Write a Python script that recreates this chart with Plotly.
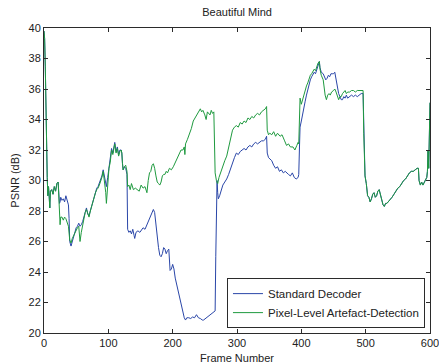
import plotly.graph_objects as go

# Pixel-Level Artefact-Detection (green)
green_frames = [0, 1, 2, 3, 4, 5, 6, 7, 8, 9, 10, 12, 14, 16, 18, 20, 22, 23, 24, 25, 26, 28, 30, 32, 34, 36, 38,
                40, 42, 44, 46, 48, 50, 52, 54, 56, 58, 60, 62, 64, 66, 68, 70, 72, 74, 76, 78, 80, 82, 84, 86, 88,
                90, 92, 94, 96, 97, 99, 101, 103, 105, 107, 109, 110, 112, 114, 116, 118, 120, 121, 122, 123, 125,
                127, 129, 130, 132, 134, 136, 139, 142, 145, 148, 151, 154, 157, 160, 162, 164, 166, 168, 170, 172,
                174, 176, 178, 180, 182, 184, 186, 188, 190, 192, 195, 198, 201, 204, 207, 210, 213, 216, 218, 219,
                220, 223, 226, 229, 232, 235, 238, 241, 243, 245, 247, 250, 252, 254, 256, 258, 260, 262, 264, 265,
                266, 268, 270, 272, 275, 278, 281, 284, 287, 290, 293, 296, 299, 302, 305, 308, 311, 314, 317, 320,
                323, 326, 329, 332, 335, 338, 341, 344, 346, 347, 349, 351, 354, 357, 360, 363, 367, 370, 374, 377,
                380, 383, 387, 390, 393, 395, 396, 397, 398, 400, 402, 404, 406, 408, 410, 412, 414, 416, 418, 420,
                422, 424, 426, 428, 429, 431, 434, 437, 439, 441, 443, 445, 447, 450, 452, 454, 456, 458, 460, 462,
                464, 466, 468, 470, 472, 475, 478, 481, 484, 487, 490, 493, 496, 497, 498, 499, 501, 503, 505, 507,
                509, 511, 513, 515, 517, 519, 521, 523, 525, 527, 529, 531, 533, 535, 538, 541, 544, 547, 550, 553,
                556, 559, 562, 565, 568, 571, 574, 577, 580, 582, 583, 585, 587, 589, 591, 593, 595, 596, 597, 598,
                599, 600]
green_psnr = [39.8, 39.3, 37.5, 34.5, 32.6, 30.2, 29.0, 29.6, 29.0, 28.2, 29.3, 29.4, 29.1, 29.6, 29.3, 29.8, 29.9,
              29.2, 28.5, 27.1, 27.6, 27.6, 27.4, 27.6, 27.5, 27.3, 27.0,
              26.1, 25.9, 26.2, 26.4, 26.6, 26.8, 26.9, 27.0, 26.0, 26.6, 27.0, 27.6, 27.9, 28.1, 27.8, 27.6, 28.0,
              28.3, 28.6, 29.0, 29.2, 29.4, 29.5, 29.7, 29.9,
              30.2, 30.6, 30.0, 29.2, 28.5, 29.8, 30.8, 31.2, 32.0, 31.7, 32.3, 32.4, 31.8, 32.1, 31.6, 31.9, 32.0,
              31.8, 31.1, 30.7, 30.9,
              31.0, 30.6, 29.6, 29.7, 29.4, 29.8, 29.4, 29.5, 29.4, 29.3, 29.7, 29.5, 29.6, 29.2, 30.0, 30.5, 30.6,
              31.0, 31.1, 30.8,
              30.3, 29.9, 29.8, 29.7, 29.9, 30.3, 30.4, 30.4, 30.6, 30.5, 30.8, 30.7, 30.9, 31.2, 31.5, 31.7, 32.0,
              32.0, 32.2, 31.7,
              32.4, 32.7, 33.0, 33.4, 33.9, 34.1, 34.3, 34.5, 34.7, 34.5, 34.6, 34.3, 34.0, 34.5, 34.4, 34.3, 34.6,
              34.4, 34.5, 32.0,
              30.5, 30.0, 29.8, 30.2, 30.6, 31.0, 31.3, 31.6, 32.2, 32.7, 33.3, 33.5, 33.6, 33.5, 33.8, 33.7, 33.9,
              33.8, 34.1, 34.0,
              34.2, 34.1, 34.3, 34.4, 34.3, 34.5, 34.6, 34.7, 34.85, 33.3, 33.0, 33.1, 33.0, 33.2, 32.9, 33.1, 32.9,
              33.0, 32.6, 32.3,
              32.4, 32.2, 32.2, 32.0, 32.3, 32.5, 32.4, 35.2, 35.4, 35.0, 35.3, 35.6, 36.0, 36.2, 36.4, 36.7, 36.9,
              37.0, 37.2, 37.3,
              37.2, 37.5, 37.7, 37.8, 37.3, 36.9, 36.6, 35.6, 35.3, 35.6, 35.7, 35.6, 35.8, 35.9, 36.0, 35.8, 35.5,
              35.3, 35.5, 35.5,
              35.7, 35.8, 35.9, 35.7, 35.8, 35.8, 35.9, 35.9, 35.8, 35.9, 35.9, 35.9, 35.9, 33.1, 31.5, 30.3, 29.8,
              29.0, 28.9, 28.6,
              28.8, 29.1, 29.2, 28.9, 29.0, 29.3, 29.4, 29.0, 28.7, 28.4, 28.3, 28.5, 28.5, 28.6, 28.7, 28.9, 29.1,
              29.3, 29.5, 29.6,
              29.8, 30.0, 30.1, 30.3, 30.5, 30.6, 30.6, 30.7, 30.8, 30.8, 30.0, 29.7, 29.9, 29.7, 29.9, 30.0, 30.2,
              30.6, 32.0, 30.8,
              33.0, 35.1]

# Standard Decoder (blue)
blue_frames = [0, 1, 2, 3, 4, 5, 6, 7, 8, 9, 10, 12, 14, 16, 18, 20, 22, 23, 24, 25, 26, 28, 30, 32, 34, 36, 38, 39,
               40, 42, 44, 46, 48, 50, 52, 54, 56, 58, 60, 62, 64, 66, 68, 70, 72, 74, 76, 78, 80, 82, 84, 86, 88,
               90, 92, 94, 96, 97, 99, 101, 103, 105, 107, 109, 110, 112, 114, 116, 118, 120, 121, 122, 123, 125,
               127, 129, 130, 132, 134, 136, 138, 140, 141, 143, 146, 149, 152, 154, 157, 160, 163, 166, 168, 170,
               172, 174, 176, 178, 180, 182, 184, 186, 188, 190, 192, 194, 196, 198, 200, 202, 204, 206, 208, 210,
               212, 214, 216, 218, 220, 222, 225, 228, 231, 234, 237, 240, 243, 246, 248, 251, 254, 257, 260, 263,
               266, 267, 268, 269, 270, 271, 273, 275, 278, 281, 284, 287, 290, 293, 296, 299, 302, 305, 308, 311,
               314, 317, 320, 323, 326, 329, 332, 335, 338, 341, 344, 346, 347, 349, 351, 354, 357, 360, 363, 366,
               369, 372, 375, 377, 380, 383, 386, 389, 392, 395, 396, 397, 398, 400, 402, 404, 406, 408, 410, 412,
               414, 416, 418, 420, 422, 424, 426, 428, 429, 431, 434, 436, 438, 440, 442, 444, 446, 448, 450, 452,
               454, 456, 458, 460, 462, 464, 466, 468, 470, 472, 475, 478, 481, 484, 487, 490, 493, 496, 497, 498,
               499, 501, 503, 505, 507, 509, 511, 513, 515, 517, 519, 521, 523, 525, 527, 529, 531, 533, 535, 538,
               541, 544, 547, 550, 553, 556, 559, 562, 565, 568, 571, 574, 577, 580, 582, 583, 585, 587, 589, 591,
               593, 595, 596, 597, 598, 599, 600]
blue_psnr = [39.8, 39.3, 37.5, 34.5, 32.6, 30.2, 29.0, 29.6, 29.0, 28.2, 29.3, 29.4, 29.1, 29.6, 29.3, 29.8, 29.9,
             29.2, 28.5, 28.6, 28.9, 28.7, 28.8, 28.6, 29.0, 28.7, 28.4, 27.5,
             26.0, 25.7, 26.0, 26.3, 26.6, 26.9, 27.0, 27.2, 27.0, 27.1, 27.3, 27.7, 27.9, 28.2, 27.8, 27.7, 28.0,
             28.4, 28.6, 29.0, 29.3, 29.5, 29.6, 29.8, 30.0,
             30.3, 30.7, 30.2, 29.9, 29.6, 30.2, 30.9, 31.4, 32.1, 31.8, 32.4, 32.5, 31.9, 32.2, 31.7, 32.0, 32.0,
             31.8, 31.1, 30.7, 30.9,
             30.8, 30.4, 26.8, 26.6, 26.7, 26.5, 26.8, 26.4, 26.2, 26.6, 26.7, 26.6, 26.8, 26.9, 26.8, 27.1, 27.3,
             27.6, 27.8, 28.1,
             27.9, 27.0, 26.1, 25.6, 25.1, 25.0, 25.2, 25.6, 25.5, 25.2, 25.4, 25.5, 24.1, 24.2, 24.5, 24.2, 23.6,
             23.2, 22.8, 22.5,
             22.0, 21.6, 21.2, 21.0, 20.85, 21.0, 21.0, 20.95, 21.05, 21.0, 21.2, 21.0, 20.95, 20.85, 20.85, 20.95,
             21.05, 21.15, 21.25, 21.35,
             21.45, 25.0, 29.6, 30.0, 29.2, 28.8, 29.0, 29.3, 29.7, 29.9, 30.1, 30.4, 30.8, 31.2, 31.5, 31.8, 31.7,
             31.9, 32.0, 32.1,
             32.0, 32.2, 32.3, 32.2, 32.4, 32.5, 32.4, 32.5, 32.6, 32.6, 32.7, 32.9, 31.8, 31.5, 31.4, 31.3, 31.0,
             30.8, 30.9, 30.6,
             30.7, 30.5, 30.6, 30.5, 30.4, 30.3, 30.5, 30.2, 30.1, 30.2, 30.4, 32.0, 33.5, 33.9, 34.4, 34.8, 35.2,
             35.6, 36.0, 36.3,
             36.6, 36.8, 37.0, 37.1, 37.0, 37.3, 37.6, 37.8, 37.4, 37.1, 37.0, 36.8, 36.6, 36.7, 36.9, 36.8, 37.0,
             37.0, 37.0, 37.1,
             36.6, 36.0, 35.7, 35.5, 35.3, 35.3, 35.5, 35.4, 35.6, 35.4, 35.5, 35.6, 35.5, 35.6, 35.5, 35.6, 35.7,
             35.7, 33.1, 31.5,
             30.3, 29.8, 29.0, 28.9, 28.6, 28.8, 29.1, 29.2, 28.9, 29.0, 29.3, 29.4, 29.0, 28.7, 28.4, 28.3, 28.5,
             28.5, 28.6, 28.7,
             28.9, 29.1, 29.3, 29.5, 29.6, 29.8, 30.0, 30.1, 30.3, 30.5, 30.6, 30.6, 30.7, 30.8, 30.8, 30.0, 29.7,
             29.9, 29.7, 29.9,
             30.0, 30.2, 30.6, 32.0, 30.8, 33.0, 35.1]

x_ticks = [0, 100, 200, 300, 400, 500, 600]
y_ticks = [20, 22, 24, 26, 28, 30, 32, 34, 36, 38, 40]

FONT = "Liberation Sans, Arial, sans-serif"
AXC = "#2b2b2b"

fig = go.Figure()
fig.add_trace(go.Scatter(x=blue_frames, y=blue_psnr, mode="lines", name="Standard Decoder",
                         line=dict(color="#2a46a8", width=1)))
fig.add_trace(go.Scatter(x=green_frames, y=green_psnr, mode="lines", name="Pixel-Level Artefact-Detection",
                         line=dict(color="#1f9a3f", width=1)))

axis_common = dict(showline=True, linecolor=AXC, linewidth=1, mirror="ticks", ticks="inside",
                   ticklen=4, tickcolor=AXC, showgrid=False, zeroline=False,
                   ticklabeloverflow="allow",
                   tickfont=dict(family=FONT, size=11, color="#222"))

fig.update_layout(
    width=439, height=364,
    margin=dict(l=44, r=9, t=28, b=31, autoexpand=False),
    paper_bgcolor="white", plot_bgcolor="white",
    font=dict(family=FONT, size=11, color="#222"),
    title=dict(text="Beautiful Mind", x=0.54, xanchor="center", y=0.967, yanchor="middle",
               yref="container", font=dict(family=FONT, size=11, color="#222")),
    xaxis=dict(range=[0, 600], tickvals=x_ticks, automargin=False,
               title=dict(text="Frame Number", standoff=6, font=dict(family=FONT, size=11, color="#222")),
               **axis_common),
    yaxis=dict(range=[20, 40], tickvals=y_ticks, automargin=False,
               title=dict(text="PSNR (dB)", standoff=6, font=dict(family=FONT, size=11, color="#222")),
               **axis_common),
    showlegend=True,
    legend=dict(x=0.987, y=0.016, xanchor="right", yanchor="bottom", bgcolor="white",
                bordercolor=AXC, borderwidth=1, font=dict(family=FONT, size=11.5, color="#222"),
                tracegroupgap=0, itemwidth=30),
)

fig.write_html("out.html", config={"displayModeBar": False},
               post_script="document.body.style.margin='0px';document.body.style.overflow='hidden';")
